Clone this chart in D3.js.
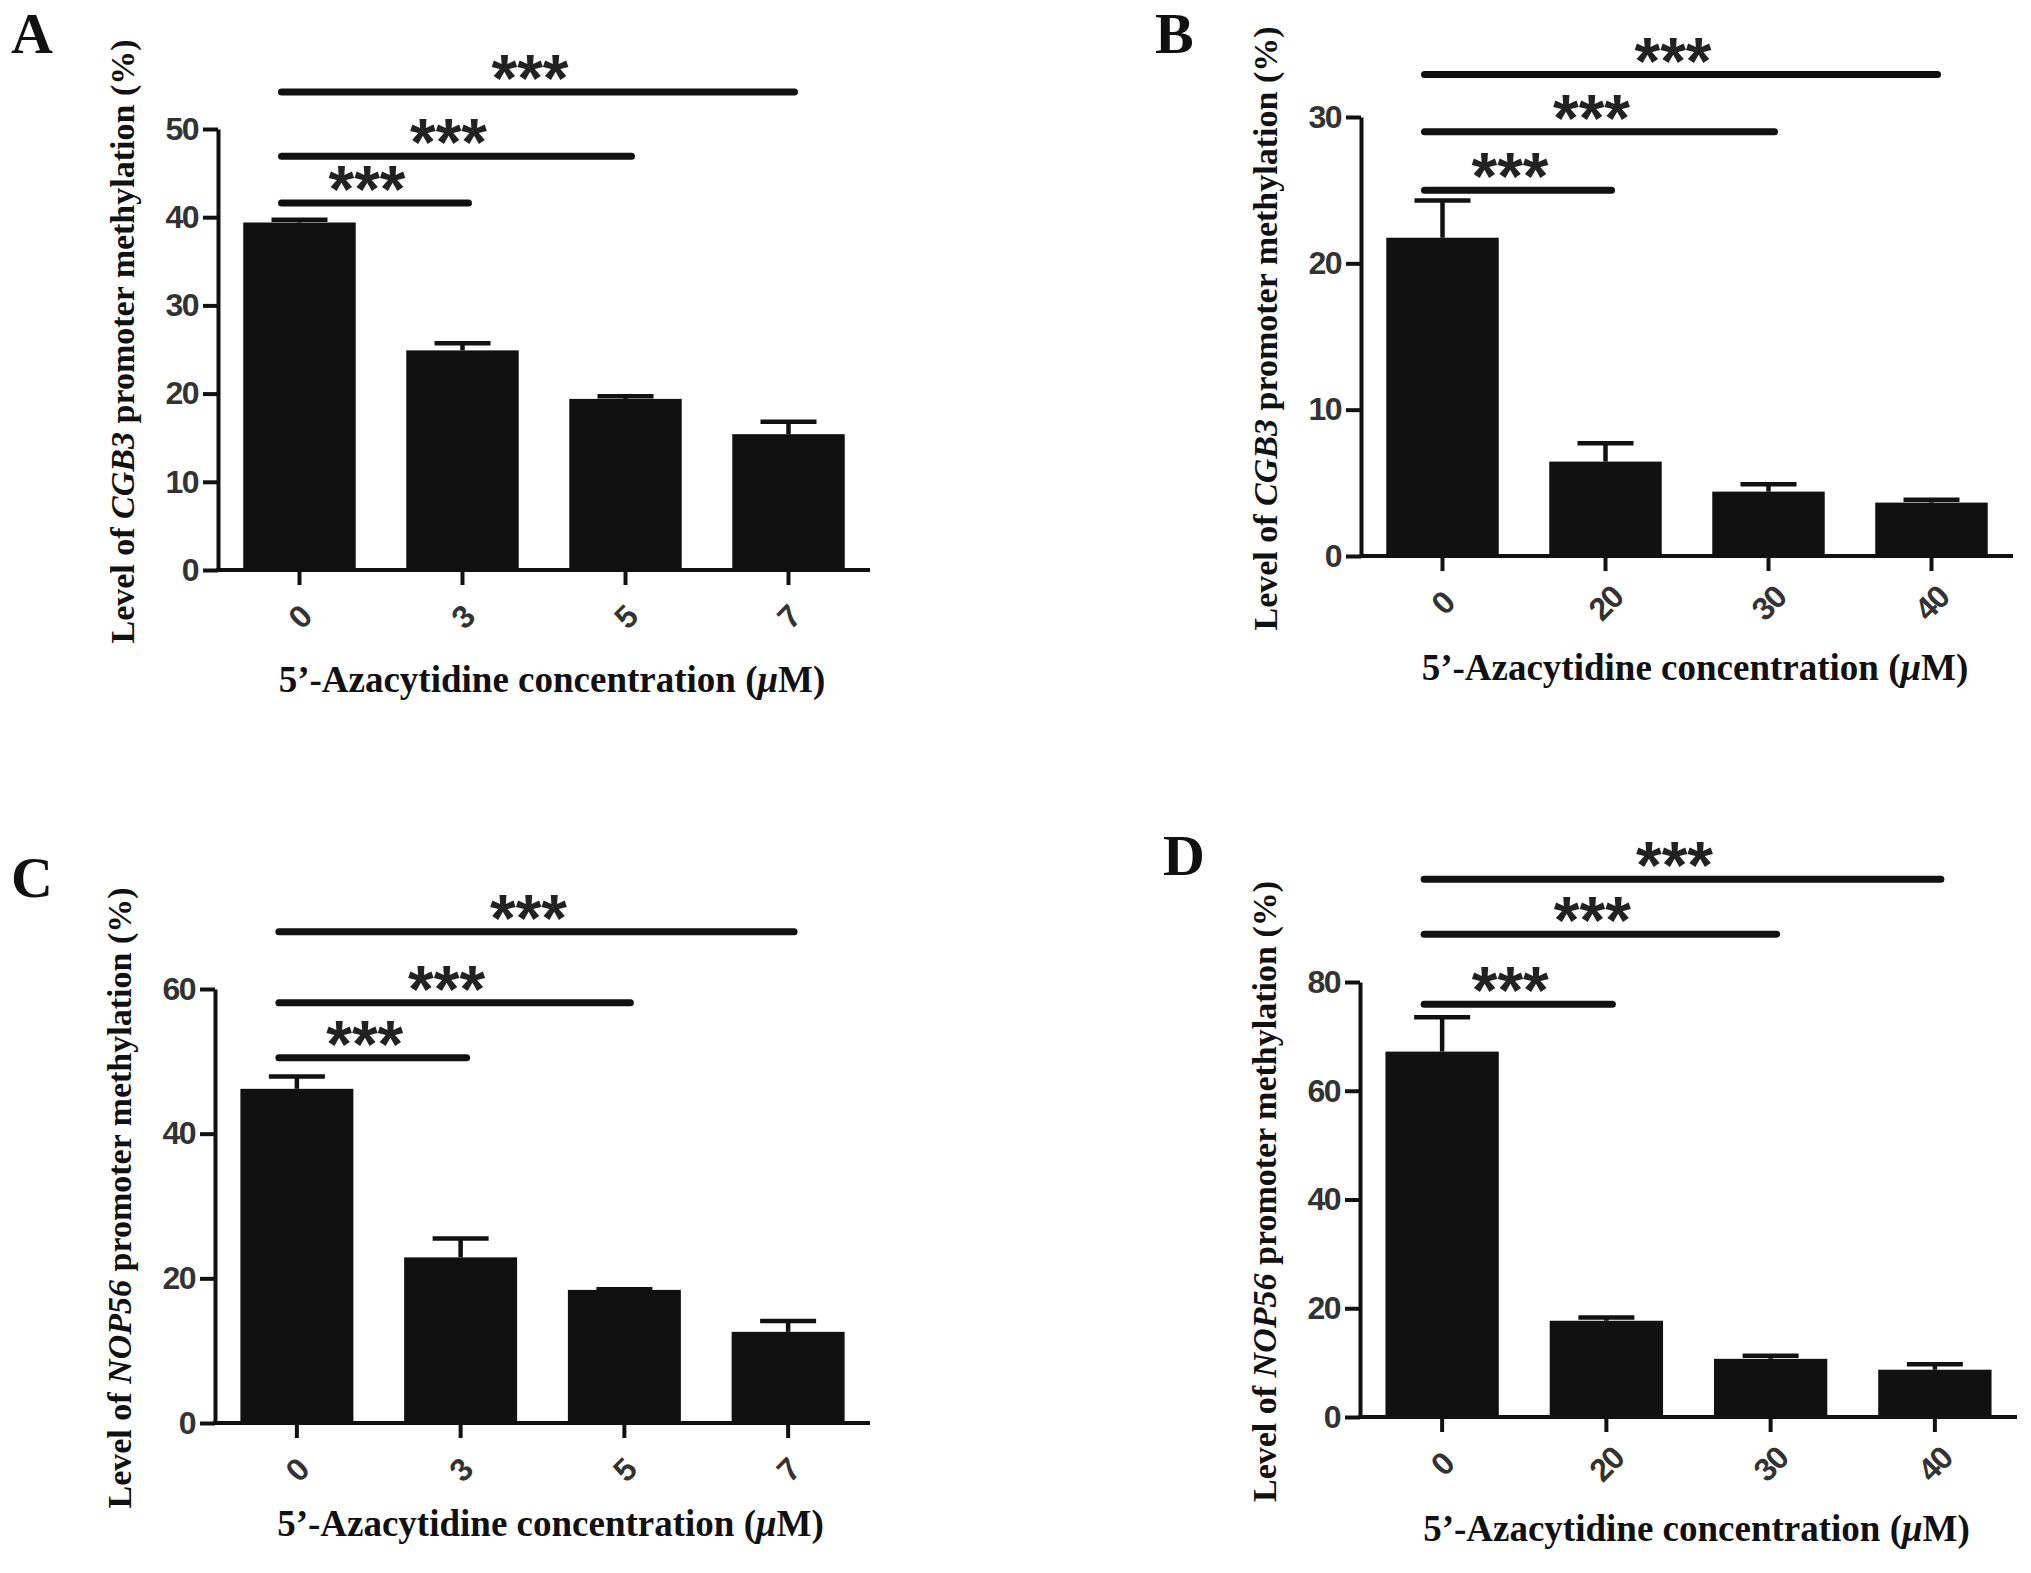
<!DOCTYPE html>
<html>
<head>
<meta charset="utf-8">
<title>5'-Azacytidine and promoter methylation</title>
<script src="https://d3js.org/d3.v7.min.js"></script>
<style>
  body { margin: 0; background: #fff; }
  .axis text { font-family: "Liberation Sans", Arial, sans-serif; font-weight: bold; font-size: 32px; fill: #333; letter-spacing: -1.5px; }
  .axis path, .axis line { stroke: #111; stroke-width: 4px; }
  .serif { font-family: "Liberation Serif", "Times New Roman", serif; font-weight: bold; fill: #111; }
</style>
</head>
<body>
<svg id="fig" width="2031" height="1573"></svg>
<script>
// 5'-Azacytidine concentrations (uM) on the x axis
const concAC = ["0", "3", "5", "7"];
const concBD = ["0", "20", "30", "40"];

// mean methylation (%) and SEM
const meanA = [39.4, 24.9, 19.4, 15.4];
const semA  = [0.3, 0.8, 0.3, 1.4];
const meanB = [21.75, 6.45, 4.4, 3.65];
const semB  = [2.55, 1.25, 0.5, 0.2];
const meanC = [46.2, 22.9, 18.4, 12.6];
const semC  = [1.7, 2.6, 0.1, 1.5];
const meanD = [67.2, 17.7, 10.7, 8.7];
const semD  = [6.3, 0.6, 0.55, 1.0];

// y tick values
const ticksA = [0, 10, 20, 30, 40, 50];
const ticksB = [0, 10, 20, 30];
const ticksC = [0, 20, 40, 60];
const ticksD = [0, 20, 40, 60, 80];

// significance brackets, all from the 0 uM bar to bar index "to", drawn at a data level
const sigToA = [1, 2, 3], sigLevelA = [41.6, 46.9, 54.2];
const sigToB = [1, 2, 3], sigLevelB = [25.0, 29.0, 32.9];
const sigToC = [1, 2, 3], sigLevelC = [50.5, 58.1, 67.9];
const sigToD = [1, 2, 3], sigLevelD = [75.9, 88.8, 98.9];

const genes = ["CGB3", "CGB3", "NOP56", "NOP56"];
const letters = ["A", "B", "C", "D"];

// panel frames (pixels)
const frames = [
  { left: 218,  right: 870,  bottom: 570,  top: 129, lx: 11,   ly: 53,  ty: 692 },
  { left: 1361, right: 2013, bottom: 556,  top: 117, lx: 1155, ly: 53,  ty: 680 },
  { left: 215,  right: 870,  bottom: 1423, top: 989, lx: 11,   ly: 897, ty: 1536 },
  { left: 1360, right: 2017, bottom: 1417, top: 982, lx: 1163, ly: 875, ty: 1541 }
];

const panels = [
  { cats: concAC, mean: meanA, sem: semA, ticks: ticksA, sigTo: sigToA, sigLevel: sigLevelA },
  { cats: concBD, mean: meanB, sem: semB, ticks: ticksB, sigTo: sigToB, sigLevel: sigLevelB },
  { cats: concAC, mean: meanC, sem: semC, ticks: ticksC, sigTo: sigToC, sigLevel: sigLevelC },
  { cats: concBD, mean: meanD, sem: semD, ticks: ticksD, sigTo: sigToD, sigLevel: sigLevelD }
];

const svg = d3.select("#fig");

panels.forEach(function(p, i) {
  const f = frames[i];
  const g = svg.append("g");

  const x = d3.scaleBand()
    .domain(p.cats)
    .range([f.left, f.right])
    .paddingInner(0.31)
    .paddingOuter(0.155);
  const y = d3.scaleLinear()
    .domain([0, d3.max(p.ticks)])
    .range([f.bottom, f.top]);
  const bw = x.bandwidth();
  const cx = function(c) { return x(c) + bw / 2; };

  // panel letter
  g.append("text").attr("class", "serif")
    .attr("x", f.lx).attr("y", f.ly)
    .attr("font-size", 58)
    .text(letters[i]);

  // bars
  g.selectAll("rect.bar")
    .data(p.mean)
    .enter().append("rect")
      .attr("class", "bar")
      .attr("x", function(d, j) { return x(p.cats[j]); })
      .attr("y", function(d) { return y(d); })
      .attr("width", bw)
      .attr("height", function(d) { return y(0) - y(d); })
      .attr("fill", "#111");

  // error bars (upper SEM)
  const eb = g.selectAll("g.err")
    .data(p.mean)
    .enter().append("g").attr("class", "err")
      .attr("stroke", "#111").attr("stroke-width", 4.5);
  eb.append("line")
    .attr("x1", function(d, j) { return cx(p.cats[j]); })
    .attr("x2", function(d, j) { return cx(p.cats[j]); })
    .attr("y1", function(d) { return y(d); })
    .attr("y2", function(d, j) { return y(d + p.sem[j]); });
  eb.append("line")
    .attr("x1", function(d, j) { return cx(p.cats[j]) - 28; })
    .attr("x2", function(d, j) { return cx(p.cats[j]) + 28; })
    .attr("y1", function(d, j) { return y(d + p.sem[j]); })
    .attr("y2", function(d, j) { return y(d + p.sem[j]); });

  // y axis
  g.append("g").attr("class", "axis")
    .attr("transform", "translate(" + f.left + ",0)")
    .call(d3.axisLeft(y).tickValues(p.ticks).tickSize(15).tickSizeOuter(0).tickPadding(5));

  // x axis with rotated labels
  const xa = g.append("g").attr("class", "axis")
    .attr("transform", "translate(0," + f.bottom + ")")
    .call(d3.axisBottom(x).tickSize(15).tickSizeOuter(0));
  xa.select(".domain").attr("d", "M" + (f.left - 2) + ",0H" + f.right);
  xa.selectAll(".tick text")
    .attr("y", 0).attr("dy", "0.35em")
    .attr("text-anchor", "middle")
    .attr("transform", "translate(0,47) rotate(-45)");

  // y axis label
  const yl = g.append("text").attr("class", "serif")
    .attr("font-size", 34)
    .attr("text-anchor", "middle")
    .attr("transform", "translate(" + (f.left - 96) + "," + ((f.top + f.bottom) / 2 - 8) + ") rotate(-90)")
    .attr("dy", "0.35em");
  yl.append("tspan").text("Level of ");
  yl.append("tspan").attr("font-style", "italic").text(genes[i]);
  yl.append("tspan").text(" promoter methylation (%)");

  // x axis title
  const xt = g.append("text").attr("class", "serif")
    .attr("font-size", 37)
    .attr("text-anchor", "middle")
    .attr("x", (f.left + f.right) / 2 + 8)
    .attr("y", f.ty);
  xt.append("tspan").text("5\u2019-Azacytidine concentration (");
  xt.append("tspan").attr("font-style", "italic").text("\u03bc");
  xt.append("tspan").text("M)");

  // significance brackets
  const sig = g.selectAll("g.sig")
    .data(p.sigLevel)
    .enter().append("g").attr("class", "sig");
  sig.append("line")
    .attr("x1", cx(p.cats[0]) - 18)
    .attr("x2", function(d, j) { return cx(p.cats[p.sigTo[j]]) + 6; })
    .attr("y1", function(d) { return y(d); })
    .attr("y2", function(d) { return y(d); })
    .attr("stroke", "#111").attr("stroke-width", 7).attr("stroke-linecap", "round");
  sig.append("text")
    .attr("x", function(d, j) { return (cx(p.cats[0]) + cx(p.cats[p.sigTo[j]])) / 2 - 14; })
    .attr("y", function(d) { return y(d) + 9; })
    .attr("text-anchor", "middle")
    .attr("font-family", "Liberation Sans, Arial, sans-serif")
    .attr("font-weight", "bold")
    .attr("font-size", 66)
    .attr("fill", "#222")
    .text("***");
});
</script>
</body>
</html>
